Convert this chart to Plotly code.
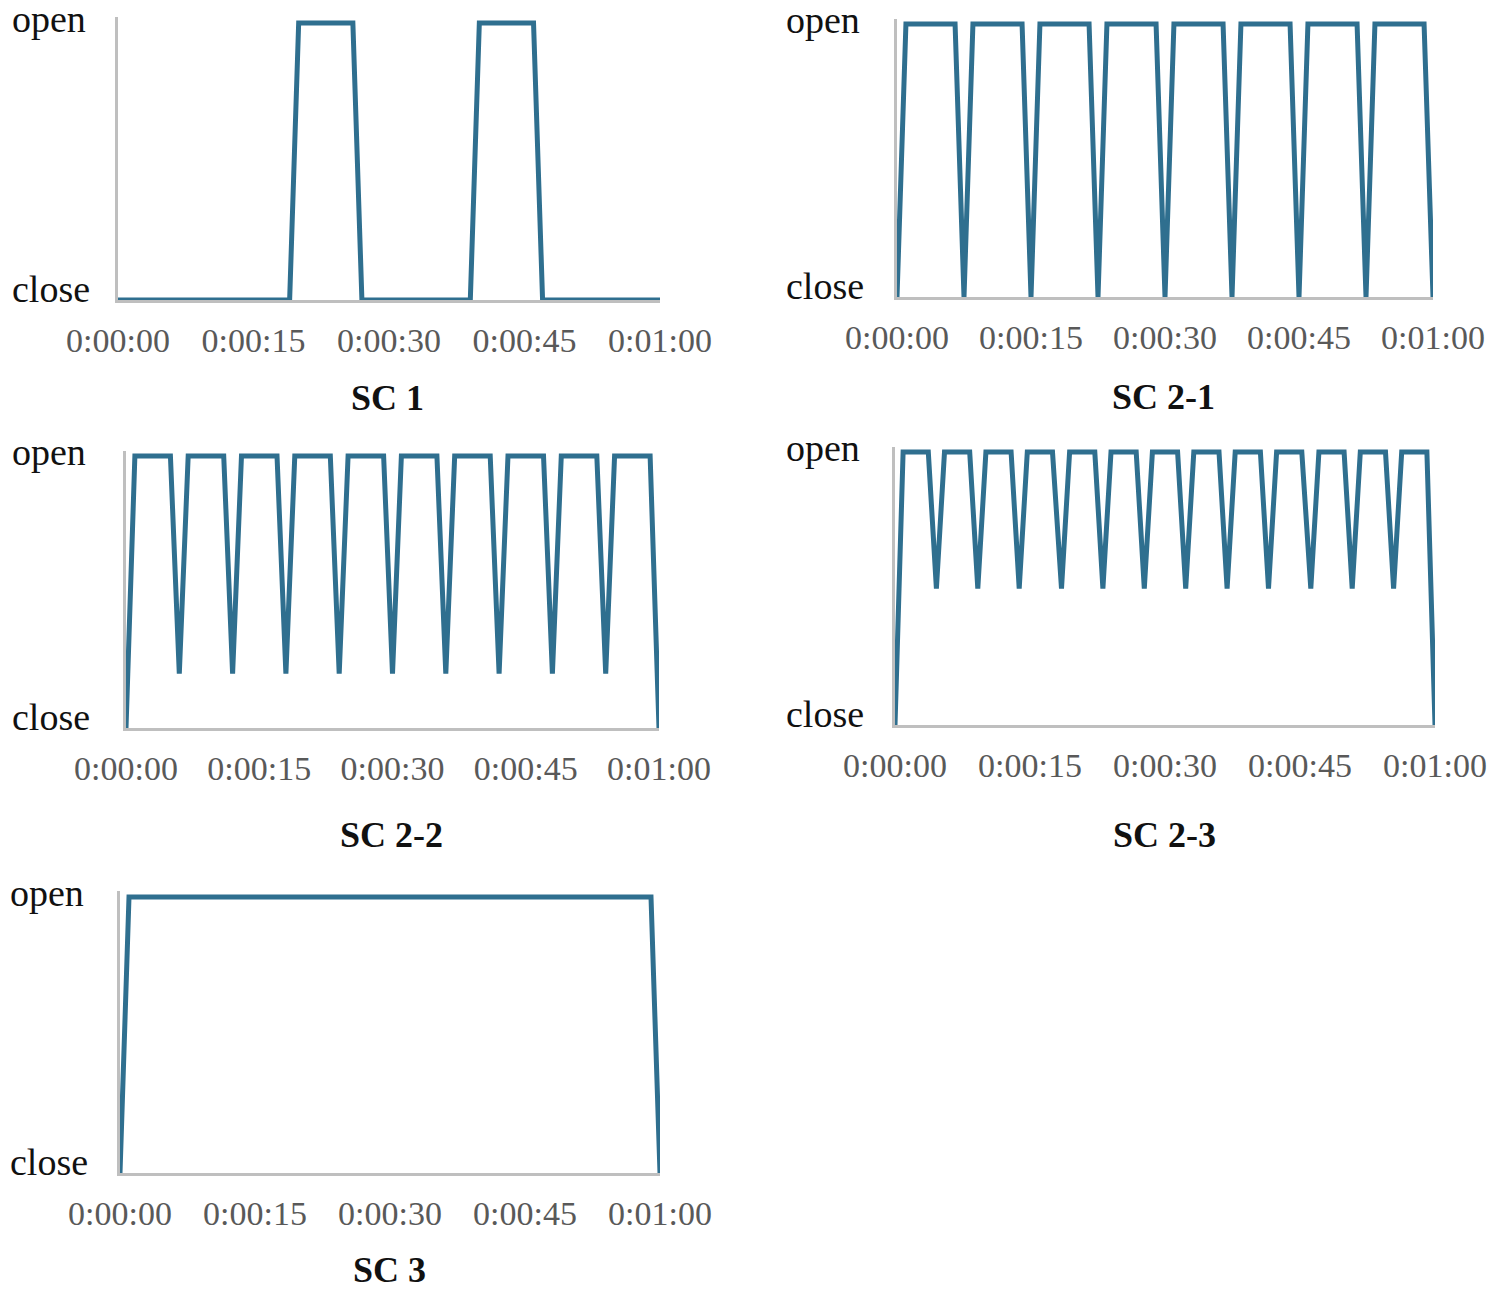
import plotly.graph_objects as go

# ---------------- data (seconds, valve state: 0 = close, 1 = open) ----------------
tick_vals = [0, 15, 30, 45, 60]
tick_text = ["0:00:00", "0:00:15", "0:00:30", "0:00:45", "0:01:00"]
state_vals = [0, 1]
state_text = ["close", "open"]

t_sc1 = [0, 18, 19, 20, 21, 25, 26, 27, 28, 38, 39, 40, 41, 45, 46, 47, 48, 60]
v_sc1 = [0, 0, 0, 1, 1, 1, 1, 0, 0, 0, 0, 1, 1, 1, 1, 0, 0, 0]

t_sc21 = [0,
          1, 2, 5.5, 6.5, 7.5,
          8.5, 9.5, 13, 14, 15,
          16, 17, 20.5, 21.5, 22.5,
          23.5, 24.5, 28, 29, 30,
          31, 32, 35.5, 36.5, 37.5,
          38.5, 39.5, 43, 44, 45,
          46, 47, 50.5, 51.5, 52.5,
          53.5, 54.5, 58, 59, 60]
v_sc21 = [0,
          1, 1, 1, 1, 0,
          1, 1, 1, 1, 0,
          1, 1, 1, 1, 0,
          1, 1, 1, 1, 0,
          1, 1, 1, 1, 0,
          1, 1, 1, 1, 0,
          1, 1, 1, 1, 0,
          1, 1, 1, 1, 0]

t_sc22 = [0,
          1, 2, 4, 5, 6,
          7, 8, 10, 11, 12,
          13, 14, 16, 17, 18,
          19, 20, 22, 23, 24,
          25, 26, 28, 29, 30,
          31, 32, 34, 35, 36,
          37, 38, 40, 41, 42,
          43, 44, 46, 47, 48,
          49, 50, 52, 53, 54,
          55, 56, 58, 59, 60]
v_sc22 = [0,
          1, 1, 1, 1, 0.2,
          1, 1, 1, 1, 0.2,
          1, 1, 1, 1, 0.2,
          1, 1, 1, 1, 0.2,
          1, 1, 1, 1, 0.2,
          1, 1, 1, 1, 0.2,
          1, 1, 1, 1, 0.2,
          1, 1, 1, 1, 0.2,
          1, 1, 1, 1, 0.2,
          1, 1, 1, 1, 0]

t_sc23 = [0,
          0.9, 2.3, 3.7, 4.6,
          5.5, 6.9, 8.3, 9.2,
          10.1, 11.5, 12.9, 13.8,
          14.7, 16.1, 17.5, 18.5,
          19.4, 20.8, 22.2, 23.1,
          24.0, 25.4, 26.8, 27.7,
          28.6, 30.0, 31.4, 32.3,
          33.2, 34.6, 36.0, 36.9,
          37.8, 39.2, 40.6, 41.5,
          42.4, 43.8, 45.2, 46.2,
          47.1, 48.5, 49.9, 50.8,
          51.7, 53.1, 54.5, 55.4,
          56.3, 57.7, 59.1, 60]
v_sc23 = [0,
          1, 1, 1, 0.5,
          1, 1, 1, 0.5,
          1, 1, 1, 0.5,
          1, 1, 1, 0.5,
          1, 1, 1, 0.5,
          1, 1, 1, 0.5,
          1, 1, 1, 0.5,
          1, 1, 1, 0.5,
          1, 1, 1, 0.5,
          1, 1, 1, 0.5,
          1, 1, 1, 0.5,
          1, 1, 1, 0.5,
          1, 1, 1, 0]

t_sc3 = [0, 1, 2, 30, 58, 59, 60]
v_sc3 = [0, 1, 1, 1, 1, 1, 0]

titles = ["SC 1", "SC 2-1", "SC 2-2", "SC 2-3", "SC 3"]
series = [(t_sc1, v_sc1), (t_sc21, v_sc21), (t_sc22, v_sc22), (t_sc23, v_sc23), (t_sc3, v_sc3)]

# ---------------- layout geometry (page pixels) ----------------
PAGE_W, PAGE_H = 1497, 1297
OFF = 8                      # default body margin of the html page
W, H = PAGE_W - 2 * OFF, PAGE_H - 2 * OFF
# left, right, y(value 0), y(value 1), label-left x, title y, title x  (page pixels)
panels = [
    dict(l=118, r=660, y0=300, y1=23, lab=10, ty=398, tx=387),
    dict(l=897, r=1433, y0=297, y1=24, lab=784, ty=397, tx=1163),
    dict(l=126, r=659, y0=728, y1=456, lab=10, ty=835, tx=391),
    dict(l=895, r=1435, y0=725, y1=452, lab=784, ty=835, tx=1164),
    dict(l=120, r=660, y0=1173, y1=897, lab=8, ty=1270, tx=390),
]
YMAX = 1.02
LINE = "#2F6F8F"
AXIS = "#BFBFBF"
SERIF = "Liberation Serif, Times New Roman, serif"
LABEL_SHIFT = {"close": -11, "open": -4}   # pixel offsets of the state labels


def px(x):
    return (x - OFF) / W


def py(y):
    return 1 - (y - OFF) / H


fig = go.Figure()
annotations = []
layout = dict(width=W, height=H, autosize=False,
              margin=dict(l=0, r=0, t=0, b=0, pad=0, autoexpand=False),
              paper_bgcolor="white", plot_bgcolor="white", showlegend=False)

for i, (p, (t, v), title) in enumerate(zip(panels, series, titles)):
    n = "" if i == 0 else str(i + 1)
    top = p["y0"] - YMAX * (p["y0"] - p["y1"])
    layout["xaxis" + n] = dict(
        domain=[px(p["l"]), px(p["r"])], range=[0, 60], anchor="y" + n,
        showline=True, linecolor=AXIS, linewidth=3, showgrid=False, zeroline=False,
        tickmode="array", tickvals=tick_vals, ticktext=tick_text, ticks="",
        ticklabelstandoff=8, automargin=False,
        tickfont=dict(family=SERIF, size=34, color="#595959"),
    )
    layout["yaxis" + n] = dict(
        domain=[py(p["y0"]), py(top)], range=[0, YMAX], anchor="x" + n,
        showline=True, linecolor=AXIS, linewidth=3, showgrid=False, zeroline=False,
        tickvals=state_vals, showticklabels=False, ticks="", automargin=False,
    )
    fig.add_trace(go.Scatter(
        x=t, y=v, mode="lines", xaxis="x" + n, yaxis="y" + n,
        line=dict(color=LINE, width=5, shape="linear"),
        hoverinfo="skip",
    ))
    # state labels (open / close)
    for val, txt in zip(state_vals, state_text):
        ypix = p["y0"] + (p["y1"] - p["y0"]) * val + LABEL_SHIFT[txt]
        annotations.append(dict(
            x=px(p["lab"]), y=py(ypix), xref="paper", yref="paper",
            xanchor="left", yanchor="middle", showarrow=False, text=txt,
            font=dict(family=SERIF, size=38, color="#111111"),
        ))
    annotations.append(dict(
        x=px(p["tx"]), y=py(p["ty"]), xref="paper", yref="paper",
        xanchor="center", yanchor="middle", showarrow=False,
        text="<b>" + title + "</b>",
        font=dict(family=SERIF, size=36, color="#111111"),
    ))

layout["annotations"] = annotations
fig.update_layout(**layout)
fig.write_html("out.html")
